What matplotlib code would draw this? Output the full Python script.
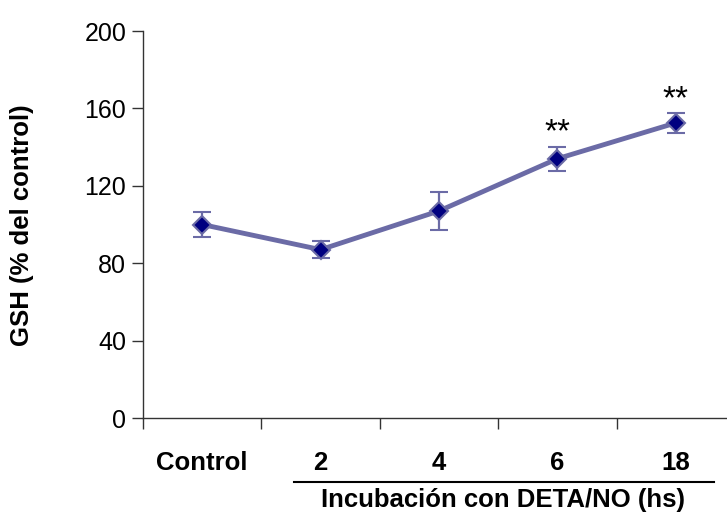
import matplotlib
matplotlib.use("Agg")
import matplotlib.pyplot as plt
from matplotlib.lines import Line2D

plt.rcParams['font.family'] = ['Liberation Sans', 'DejaVu Sans']

categories = ["Control", "2", "4", "6", "18"]
gsh_mean = [100, 87, 107, 134, 152.5]
gsh_err = [6.5, 4.4, 9.8, 6.2, 5.0]
significance = ["", "", "", "**", "**"]
y_ticks = [0, 40, 80, 120, 160, 200]

W, H = 727, 515
fig = plt.figure(figsize=(W / 100, H / 100), dpi=100)
ax = fig.add_axes([143 / W, 1 - 418 / H, (735 - 143) / W, (418 - 31) / H])

x = list(range(len(categories)))
line_color = "#6b6ba6"
ax.errorbar(x, gsh_mean, yerr=gsh_err, color=line_color, lw=3.5,
            ecolor=line_color, elinewidth=1.6, capsize=6.5, capthick=1.8,
            marker="D", markersize=9, markerfacecolor="#000080",
            markeredgecolor=line_color, markeredgewidth=1.5, zorder=3)

for xi, m, e, s in zip(x, gsh_mean, gsh_err, significance):
    if s:
        ax.text(xi, m + e - 1, s, ha="center", va="bottom", fontsize=24,
                color="black")

ax.set_xlim(-0.5, len(categories) - 0.5)
ax.set_ylim(0, 200)
ax.set_yticks(y_ticks)
ax.set_yticklabels([str(v) for v in y_ticks], fontsize=18)
ax.set_xticks([i - 0.5 for i in range(len(categories) + 1)])
ax.set_xticklabels([])
ax.tick_params(axis="both", direction="out", length=8, width=1, color="#333333", pad=4)
for side in ("top", "right"):
    ax.spines[side].set_visible(False)
for side in ("left", "bottom"):
    ax.spines[side].set_color("#333333")
    ax.spines[side].set_linewidth(1)

for xi, c in zip(x, categories):
    ax.text(xi, -0.117, c, transform=ax.get_xaxis_transform(), ha="center",
            va="center", fontsize=18.5, fontweight="bold")

# bracket line under the incubation times
fig.add_artist(Line2D([294 / W, 714 / W], [1 - 482 / H, 1 - 482 / H],
                      color="black", lw=1.5))
fig.text(503 / W, 1 - 500 / H, "Incubación con DETA/NO (hs)", ha="center",
         va="center", fontsize=18.5, fontweight="bold")

fig.text(22 / W, 1 - 225 / H, "GSH (% del control)", rotation=90,
         ha="center", va="center", fontsize=18.5, fontweight="bold")

fig.savefig("out.png", dpi=100)
